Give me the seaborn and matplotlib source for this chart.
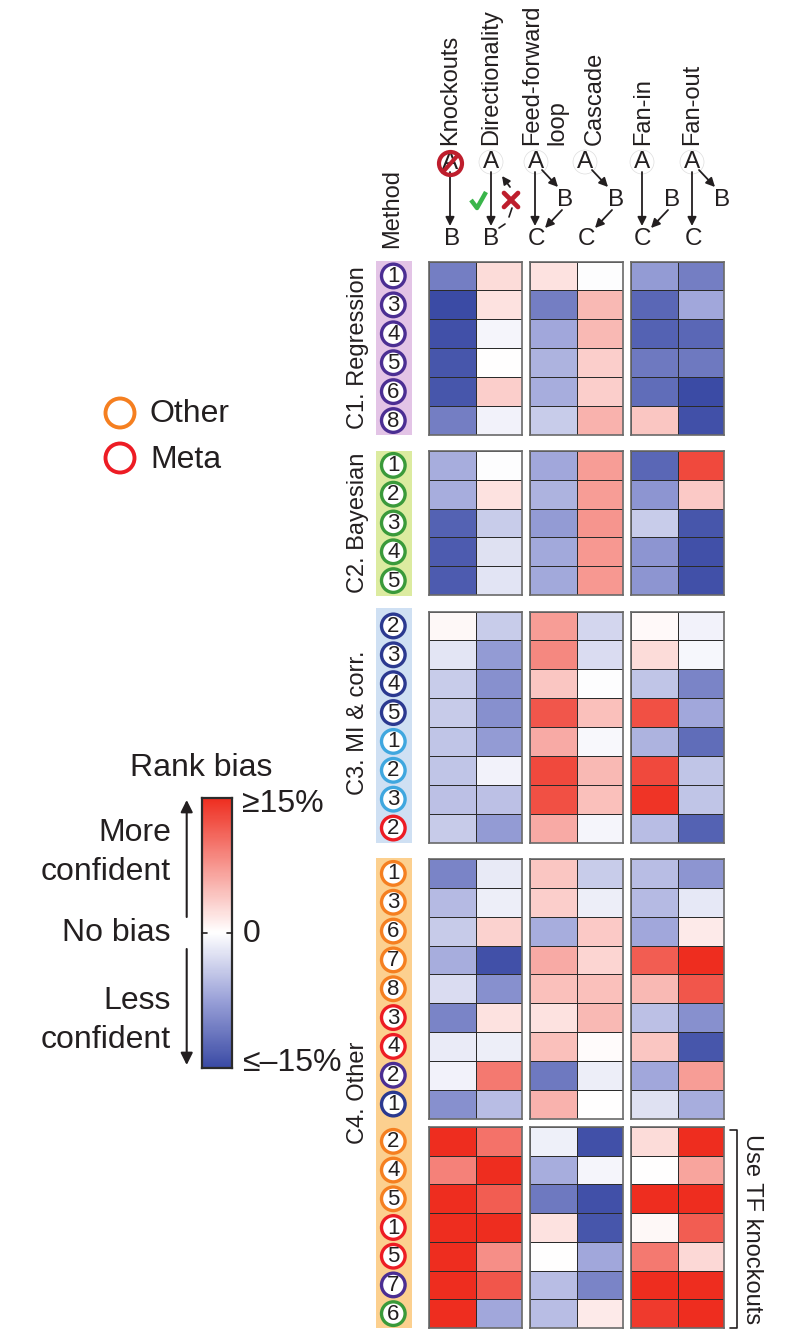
import matplotlib
matplotlib.use("Agg")
import matplotlib.pyplot as plt
from matplotlib.colors import LinearSegmentedColormap
from matplotlib.patches import Circle, FancyArrowPatch, Rectangle
import numpy as np
import seaborn as sns

W, H = 789, 1330

COLUMNS = ["Knockouts", "Directionality", "Feed-forward loop", "Cascade", "Fan-in", "Fan-out"]

C1_VALUES = [
    [-10.5, 2.5, 2, -0.2, -8, -10.5],
    [-15, 2, -10.5, 5, -12.5, -7],
    [-14.5, -0.8, -7, 5, -13, -12.5],
    [-14, 0, -6, 3.5, -11, -11],
    [-14, 3.5, -6.5, 3.5, -12, -15],
    [-10.5, -1, -4, 5.5, 4, -14.5],
]
C2_VALUES = [
    [-6.5, -0.2, -7, 7, -12.5, 13],
    [-6.5, 2, -6, 7, -8.5, 3.8],
    [-13, -4, -8, 7.5, -4, -14],
    [-13.5, -2.4, -6.8, 7.3, -8.5, -14.5],
    [-13.5, -2.2, -6.8, 7.3, -8.5, -14.5],
]
C3_VALUES = [
    [0.5, -4, 7, -3.2, 0.4, -1],
    [-2, -8, 8.5, -2.7, 2.5, -0.7],
    [-4, -9, 4, -0.2, -4.6, -10],
    [-4.2, -9, 12, 4.5, 12.5, -7],
    [-4.6, -8, 6, -0.5, -6, -12],
    [-4.6, -1, 13, 5, 13, -4.6],
    [-5, -5, 12.5, 4.5, 14.5, -4.6],
    [-4.2, -8, 6, -0.8, -5.2, -13],
]
C4_VALUES = [
    [-10, -1.7, 4, -4, -5.2, -8.5],
    [-5.5, -1.4, 3.5, -1.4, -5.5, -1.8],
    [-4.2, 3.2, -6.5, 3.8, -7, 1.5],
    [-6.5, -14.5, 6, 3, 11.5, 15],
    [-2.7, -9, 4.5, 4.5, 5, 12],
    [-10, 2, 2, 5, -5, -9],
    [-1.6, -1.4, 4.5, 0.3, 4, -14],
    [-1, 9.5, -11, -1.4, -7, 7],
    [-9, -5.2, 5.5, 0, -2.4, -6.5],
]
KO_VALUES = [
    [15, 10, -1.2, -14.5, 2.5, 15],
    [9, 15, -6.5, -0.8, 0, 6.5],
    [15, 11.5, -11, -14.5, 15, 15],
    [15, 15, 2, -14, 0.5, 11.5],
    [15, 8, 0.1, -7, 9.5, 2.8],
    [15, 12, -5.2, -10, 15, 15],
    [15, -7, -5.2, 1.5, 14, 15],
]

PURPLE, GREEN, NAVY, SKY, RED, ORANGE = "#4B2E93", "#3A9A3A", "#2B3990", "#3FA7DF", "#ED1C24", "#F57F20"

C1_METHODS = ["1", "3", "4", "5", "6", "8"]
C1_RINGS = [PURPLE] * 6
C2_METHODS = ["1", "2", "3", "4", "5"]
C2_RINGS = [GREEN] * 5
C3_METHODS = ["2", "3", "4", "5", "1", "2", "3", "2"]
C3_RINGS = [NAVY] * 4 + [SKY] * 3 + [RED]
C4_METHODS = ["1", "3", "6", "7", "8", "3", "4", "2", "1"]
C4_RINGS = [ORANGE] * 5 + [RED] * 2 + [PURPLE, NAVY]
KO_METHODS = ["2", "4", "5", "1", "5", "7", "6"]
KO_RINGS = [ORANGE] * 3 + [RED] * 2 + [PURPLE, GREEN]

# y extents in pixels from the top
BLOCKS = [
    (C1_VALUES, C1_METHODS, C1_RINGS, 261.5, 435),
    (C2_VALUES, C2_METHODS, C2_RINGS, 451, 595),
    (C3_VALUES, C3_METHODS, C3_RINGS, 611.5, 842.5),
    (C4_VALUES, C4_METHODS, C4_RINGS, 859, 1118.5),
    (KO_VALUES, KO_METHODS, KO_RINGS, 1127, 1328),
]
COL_GROUPS = [(429, 522), (530, 623), (631, 724)]
STRIPS = [(261, 435, "#E3C4E6"), (451, 596, "#DCEBA0"), (608, 843, "#CFE0F3"), (858, 1328, "#FCD08F")]
GROUP_LABELS = [("C1. Regression", 358, 348), ("C2. Bayesian", 358, 523), ("C3. MI & corr.", 358, 723), ("C4. Other", 358, 1093)]

sns.set_theme(style="white")
plt.rcParams["font.family"] = ["Liberation Sans", "DejaVu Sans"]
TEXT = "#231F20"
HEAD = 17
BIG = 23

cmap = LinearSegmentedColormap.from_list(
    "bias", [(0, "#3B4BA5"), (0.25, "#9AA1D8"), (0.5, "#FFFFFF"), (1, "#EE2D1F")]
)


def px_axes(fig, x0, x1, y0, y1, **kw):
    return fig.add_axes([x0 / W, 1 - y1 / H, (x1 - x0) / W, (y1 - y0) / H], **kw)


def arrow(ax, p, q, lw=1.3, scale=13, ls="-"):
    ax.add_patch(FancyArrowPatch(p, q, arrowstyle="-|>", mutation_scale=scale, lw=lw,
                                 color=TEXT, linestyle=ls, shrinkA=0, shrinkB=0))


fig = plt.figure(figsize=(W / 100, H / 100), dpi=100)

over = px_axes(fig, 0, W, 0, H, zorder=5)
over.set_xlim(0, W)
over.set_ylim(H, 0)
over.axis("off")
over.patch.set_alpha(0)

# heat blocks
for values, methods, rings, y0, y1 in BLOCKS:
    arr = np.array(values)
    for g, (x0, x1) in enumerate(COL_GROUPS):
        ax = px_axes(fig, x0, x1, y0, y1)
        sns.heatmap(arr[:, 2 * g:2 * g + 2], ax=ax, cmap=cmap, vmin=-15, vmax=15, cbar=False,
                    linewidths=0.55, linecolor="#2b2b2b", xticklabels=False, yticklabels=False)
        for s in ax.spines.values():
            s.set_visible(True)
            s.set_color("#6a6a6a")
            s.set_linewidth(1.2)

# category strips and method badges
for y0, y1, col in STRIPS:
    over.add_patch(Rectangle((375.7, y0), 36, y1 - y0, fc=col, ec="none", zorder=1))
for values, methods, rings, y0, y1 in BLOCKS:
    step = (y1 - y0) / len(methods)
    for i, (m, c) in enumerate(zip(methods, rings)):
        yc = y0 + step * (i + 0.5)
        over.add_patch(Circle((393.3, yc), 11.8, fc="white", ec=c, lw=2.4, zorder=2))
        over.text(393.3, yc + 0.5, m, ha="center", va="center", fontsize=16, color=TEXT, zorder=3)

for label, x, y in GROUP_LABELS:
    over.text(x, y, label, rotation=90, ha="center", va="center", fontsize=17, color=TEXT)
over.text(392, 248, "Method", rotation=90, ha="center", va="bottom", fontsize=HEAD, color=TEXT)

# column headers
for label, x in [(COLUMNS[0], 450), (COLUMNS[1], 491), ("Feed-forward", 532), ("loop", 557),
                 (COLUMNS[3], 595), (COLUMNS[4], 643), (COLUMNS[5], 692)]:
    over.text(x, 145, label, rotation=90, ha="center", va="bottom", fontsize=HEAD, color=TEXT)

# motif glyphs
for letter, x, y in [("A", 450, 163), ("B", 452, 239), ("A", 491, 162), ("B", 491, 239),
                     ("A", 536, 162), ("B", 565, 200), ("C", 537, 239),
                     ("A", 585, 162), ("B", 616, 200), ("C", 587, 239),
                     ("A", 642, 162), ("B", 672, 200), ("C", 643, 239),
                     ("A", 692, 162), ("B", 722, 200), ("C", 694, 239)]:
    if letter == "A":
        over.add_patch(Circle((x, y), 12, fc="white", ec="#dddddd", lw=0.5, zorder=1))
    over.text(x, y, letter, ha="center", va="center", fontsize=17.5, color=TEXT, zorder=3)

for p, q in [((450, 172), (450, 226)), ((491, 172), (491, 226)),
             ((535, 172), (535, 226)), ((542, 170), (558, 187)), ((562, 210), (545, 228)),
             ((592, 170), (608, 187)), ((612, 210), (595, 228)),
             ((642, 172), (642, 226)), ((668, 210), (651, 228)),
             ((692, 172), (692, 226)), ((699, 170), (715, 187))]:
    arrow(over, p, q)

# no-knockout sign
over.add_patch(Circle((450.5, 163.5), 11.5, fc="none", ec="#BE1E2D", lw=3, zorder=4))
over.plot([443, 458], [172, 155], color="#BE1E2D", lw=3, zorder=4)

# directionality marks
over.plot([471, 477, 486], [200, 208, 192], color="#39B54A", lw=3.2, solid_capstyle="butt")
over.plot([504, 518], [193, 207], color="#BE1E2D", lw=3.4)
over.plot([504, 518], [207, 193], color="#BE1E2D", lw=3.4)
over.plot([499, 505], [228, 224], color=TEXT, lw=1.2)
over.plot([509, 512], [217, 208], color=TEXT, lw=1.2)
arrow(over, (510, 187), (502, 176), scale=12)

# knockout bracket
over.plot([730, 737.5, 737.5, 730], [1130, 1130, 1328, 1328], color=TEXT, lw=1.2)
over.text(752, 1229, "Use TF knockouts", rotation=270, ha="center", va="center", fontsize=HEAD, color=TEXT)

# method type legend
for label, c, y in [("Other", ORANGE, 413), ("Meta", RED, 458)]:
    over.add_patch(Circle((120, y), 14.5, fc="white", ec=c, lw=2.8))
    over.text(150, y + 1.5, label, ha="left", va="center", fontsize=BIG, color=TEXT)

# colour bar
cax = px_axes(fig, 202, 231.5, 797.5, 1067.5)
sns.heatmap(np.linspace(15, -15, 256).reshape(-1, 1), ax=cax, cmap=cmap, vmin=-15, vmax=15, cbar=False,
            xticklabels=False, yticklabels=False)
for s in cax.spines.values():
    s.set_visible(True)
    s.set_color("#2b2b2b")
    s.set_linewidth(1.6)
over.plot([202, 207], [932.5, 932.5], color=TEXT, lw=1.2)
over.plot([227, 232], [932.5, 932.5], color=TEXT, lw=1.2)

over.text(201, 768, "Rank bias", ha="center", va="center", fontsize=BIG, color=TEXT)
over.text(242, 804, "≥15%", ha="left", va="center", fontsize=BIG, color=TEXT)
over.text(243, 934, "0", ha="left", va="center", fontsize=BIG, color=TEXT)
over.text(242, 1063, "≤–15%", ha="left", va="center", fontsize=BIG, color=TEXT)
for label, y in [("More", 833), ("confident", 872), ("No bias", 933), ("Less", 1001), ("confident", 1040)]:
    over.text(171, y, label, ha="right", va="center", fontsize=BIG, color=TEXT)
arrow(over, (186.7, 917), (186.7, 800), lw=1.5, scale=18)
arrow(over, (186.7, 949), (186.7, 1065), lw=1.5, scale=18)

fig.savefig("out.png", dpi=100)
